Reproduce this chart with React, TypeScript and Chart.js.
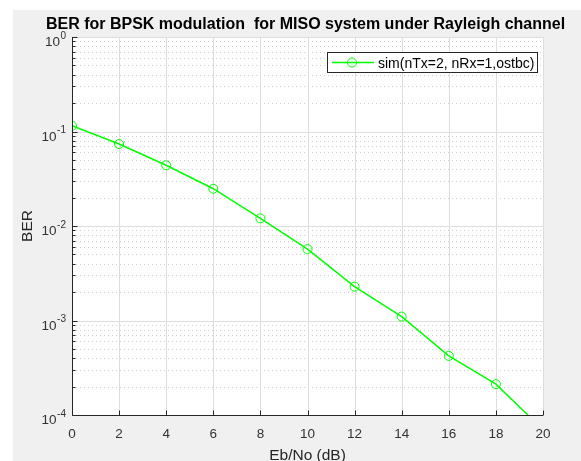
import React, { useEffect, useRef } from 'react';
import { Chart, registerables } from 'chart.js';

Chart.register(...registerables);

const ebNo = [0, 2, 4, 6, 8, 10, 12, 14, 16, 18, 20];
const ber = [0.115, 0.0737, 0.0439, 0.0248, 0.01205, 0.00569, 0.00228, 0.0011, 0.000422, 0.000212, 0.00007];
const xTickValues = [0, 2, 4, 6, 8, 10, 12, 14, 16, 18, 20];
const yExponents = [0, -1, -2, -3, -4];
const minorMultipliers = [2, 3, 4, 5, 6, 7, 8, 9];
const titleText = 'BER for BPSK modulation  for MISO system under Rayleigh channel';
const xLabelText = 'Eb/No (dB)';
const yLabelText = 'BER';
const legendText = 'sim(nTx=2, nRx=1,ostbc)';

const FONT = "'Liberation Sans', Arial, Helvetica, sans-serif";
const AXIS = '#262626';
const LABEL = '#333333';
const GREEN = '#00ff00';

const matlabPlugin = {
  id: 'matlabLook',
  beforeDraw(chart: any) {
    const { ctx, chartArea: a } = chart;
    ctx.save();
    ctx.fillStyle = '#f0f0f0';
    ctx.fillRect(13, 10, chart.width - 13, chart.height - 10);
    ctx.fillStyle = '#ffffff';
    ctx.fillRect(a.left, a.top, a.right - a.left, a.bottom - a.top);
    ctx.restore();
  },
  beforeDatasetsDraw(chart: any) {
    const { ctx, chartArea: a, scales } = chart;
    const xs = scales.x;
    const ys = scales.y;
    ctx.save();
    ctx.lineWidth = 1;
    // minor y grid (dotted)
    ctx.strokeStyle = '#cccccc';
    ctx.setLineDash([1, 3]);
    for (let e = 0; e >= -4; e--) {
      for (const m of minorMultipliers) {
        const v = m * Math.pow(10, e - 1);
        if (v <= 1e-4 || v >= 1) continue;
        const y = Math.round(ys.getPixelForValue(v)) + 0.5;
        ctx.beginPath();
        ctx.moveTo(a.left, y);
        ctx.lineTo(a.right, y);
        ctx.stroke();
      }
    }
    ctx.setLineDash([]);
    // major grid
    ctx.strokeStyle = '#dedede';
    for (const e of yExponents) {
      const y = Math.round(ys.getPixelForValue(Math.pow(10, e))) + 0.5;
      ctx.beginPath();
      ctx.moveTo(a.left, y);
      ctx.lineTo(a.right, y);
      ctx.stroke();
    }
    for (const v of xTickValues) {
      const x = Math.round(xs.getPixelForValue(v)) + 0.5;
      ctx.beginPath();
      ctx.moveTo(x, a.top);
      ctx.lineTo(x, a.bottom);
      ctx.stroke();
    }
    ctx.restore();
  },
  afterDatasetsDraw(chart: any) {
    const { ctx, chartArea: a, scales } = chart;
    const xs = scales.x;
    const ys = scales.y;
    ctx.save();
    ctx.strokeStyle = AXIS;
    ctx.lineWidth = 1;
    const lx = Math.round(a.left) + 0.5;
    const by = Math.round(a.bottom) + 0.5;
    ctx.beginPath();
    ctx.moveTo(lx, a.top);
    ctx.lineTo(lx, by);
    ctx.lineTo(a.right, by);
    ctx.stroke();
    // x ticks
    for (const v of xTickValues) {
      const x = Math.round(xs.getPixelForValue(v)) + 0.5;
      ctx.beginPath();
      ctx.moveTo(x, by);
      ctx.lineTo(x, by - 5);
      ctx.stroke();
    }
    // y major ticks
    for (const e of yExponents) {
      const y = Math.round(ys.getPixelForValue(Math.pow(10, e))) + 0.5;
      ctx.beginPath();
      ctx.moveTo(lx, y);
      ctx.lineTo(lx + 5, y);
      ctx.stroke();
    }
    // y minor ticks
    for (let e = 0; e >= -3; e--) {
      for (const m of minorMultipliers) {
        const v = m * Math.pow(10, e - 1);
        const y = Math.round(ys.getPixelForValue(v)) + 0.5;
        ctx.beginPath();
        ctx.moveTo(lx, y);
        ctx.lineTo(lx + 3, y);
        ctx.stroke();
      }
    }
    ctx.restore();
  },
  afterDraw(chart: any) {
    const { ctx, chartArea: a, scales } = chart;
    const xs = scales.x;
    const ys = scales.y;
    ctx.save();
    // x tick labels
    ctx.fillStyle = LABEL;
    ctx.font = `13.5px ${FONT}`;
    ctx.textAlign = 'center';
    ctx.textBaseline = 'alphabetic';
    for (const v of xTickValues) {
      ctx.fillText(String(v), xs.getPixelForValue(v), a.bottom + 22.5);
    }
    // y tick labels with superscript exponents
    for (const e of yExponents) {
      const y = ys.getPixelForValue(Math.pow(10, e));
      const expStr = e === 0 ? '0' : '-' + String(-e);
      ctx.textAlign = 'right';
      ctx.font = `10px ${FONT}`;
      const rightEdge = 66;
      ctx.fillText(expStr, rightEdge, y + 1.5);
      const ew = ctx.measureText(expStr).width;
      ctx.font = `13.5px ${FONT}`;
      ctx.fillText('10', rightEdge - ew - 0.5, y + 9);
    }
    // axis labels
    ctx.fillStyle = AXIS;
    ctx.font = `15.5px ${FONT}`;
    ctx.textAlign = 'center';
    ctx.fillText(xLabelText, (a.left + a.right) / 2, 459.5);
    ctx.save();
    ctx.translate(31.5, (a.top + a.bottom) / 2);
    ctx.rotate(-Math.PI / 2);
    ctx.fillText(yLabelText, 0, 0);
    ctx.restore();
    // title
    ctx.fillStyle = '#000000';
    ctx.font = `bold 16px ${FONT}`;
    ctx.fillText(titleText, (a.left + a.right) / 2 - 2, 28.5);
    // legend
    const bx = 327.5, bt = 52.5, bw = 210, bh = 20;
    ctx.fillStyle = '#ffffff';
    ctx.fillRect(bx, bt, bw, bh);
    ctx.strokeStyle = AXIS;
    ctx.lineWidth = 1;
    ctx.strokeRect(bx, bt, bw, bh);
    const ly = bt + bh / 2;
    ctx.strokeStyle = GREEN;
    ctx.lineWidth = 1.5;
    ctx.beginPath();
    ctx.moveTo(332, ly);
    ctx.lineTo(374, ly);
    ctx.stroke();
    ctx.lineWidth = 1;
    ctx.beginPath();
    ctx.arc(352, ly, 4.5, 0, Math.PI * 2);
    ctx.stroke();
    ctx.fillStyle = '#000000';
    ctx.font = `14px ${FONT}`;
    ctx.textAlign = 'left';
    ctx.fillText(legendText, 378, ly + 5);
    ctx.restore();
  },
};

export default function App() {
  const canvasRef = useRef<HTMLCanvasElement | null>(null);

  useEffect(() => {
    const canvas = canvasRef.current;
    if (!canvas) return;
    const chart = new Chart(canvas, {
      type: 'line',
      data: {
        datasets: [
          {
            label: legendText,
            data: ebNo.map((x, i) => ({ x, y: ber[i] })),
            borderColor: GREEN,
            borderWidth: 1.5,
            pointRadius: 4.5,
            pointBorderWidth: 1,
            pointBorderColor: GREEN,
            pointBackgroundColor: 'rgba(0,0,0,0)',
            pointStyle: 'circle',
            tension: 0,
            fill: false,
          },
        ],
      },
      options: {
        responsive: false,
        animation: false,
        devicePixelRatio: 1,
        layout: { padding: { left: 72, top: 37, right: 38, bottom: 46 } },
        plugins: {
          legend: { display: false },
          tooltip: { enabled: false },
          title: { display: false },
        },
        scales: {
          x: { type: 'linear', min: 0, max: 20, display: false },
          y: { type: 'logarithmic', min: 1e-4, max: 1, display: false },
        },
      },
      plugins: [matlabPlugin],
    });
    return () => chart.destroy();
  }, []);

  return (
    <div style={{ position: 'absolute', left: 0, top: 0, width: 581, height: 461 }}>
      <canvas ref={canvasRef} width={581} height={461} style={{ display: 'block' }} />
    </div>
  );
}
